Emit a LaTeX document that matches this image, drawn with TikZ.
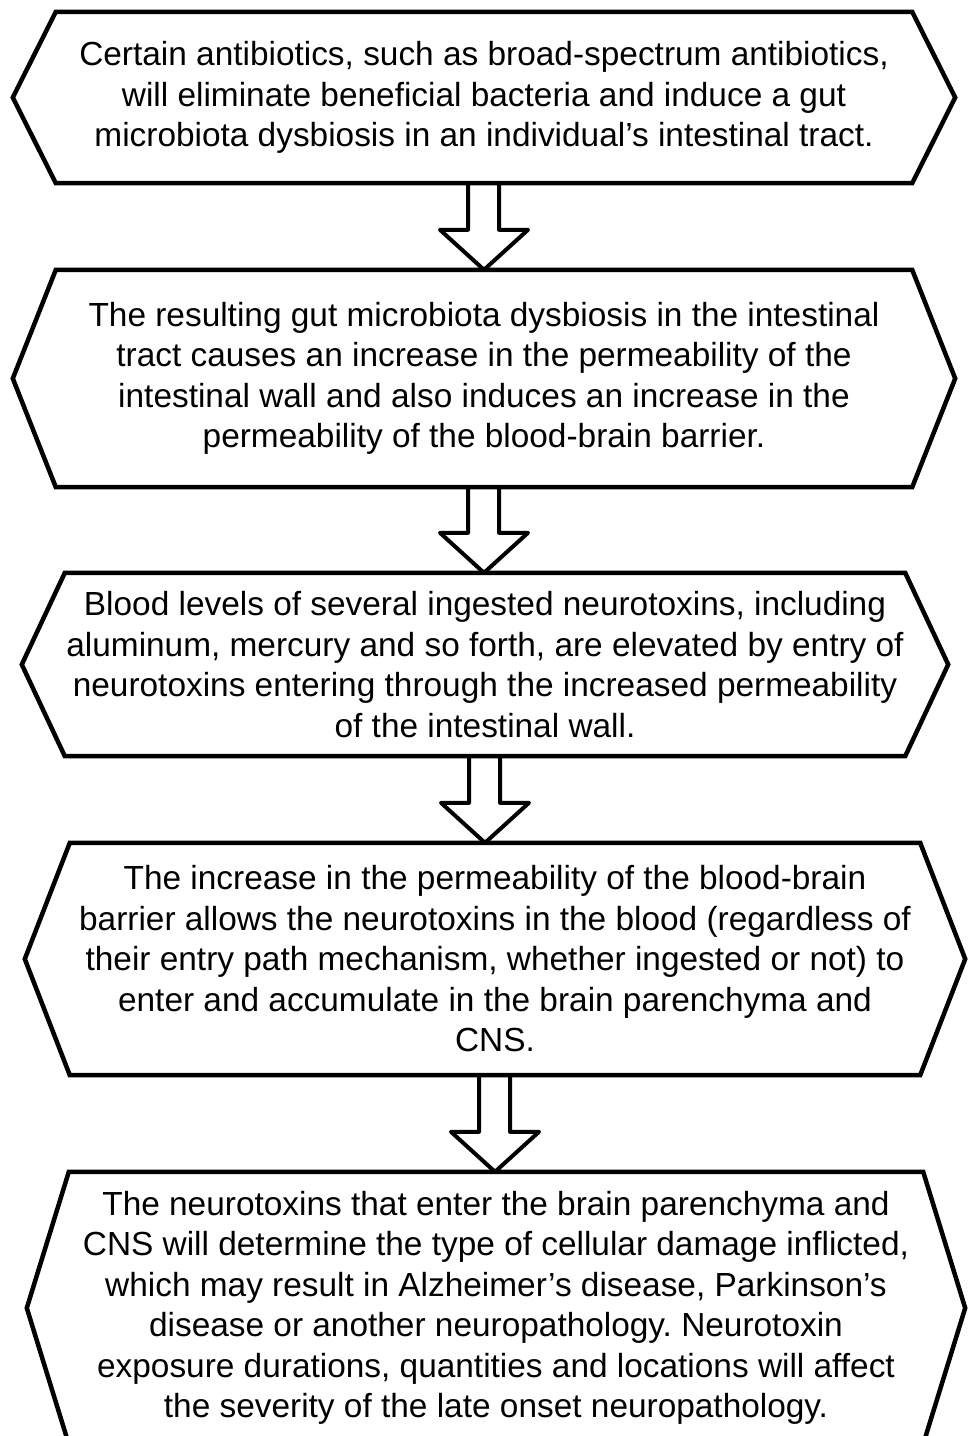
\documentclass[tikz,border=0pt]{standalone}
\usepackage{fontspec}
\setmainfont{Liberation Sans}
\usepackage{tikz}
\usetikzlibrary{calc}
\frenchspacing

\begin{document}
\begin{tikzpicture}[
        x=1pt, y=1pt,
        hexbox/.style={rectangle, inner sep=0pt, align=center, font=\fontsize{33.4}{40.5}\selectfont},
        hexline/.style={draw, line width=4.5pt, line join=miter},
        flowarrow/.style={draw, line width=4pt, line join=round}
    ]

    \useasboundingbox (0,0) rectangle (968,-1436);
    \clip (0,0) rectangle (968,-1436);

    % ---- STEPS ----
    \node[hexbox, minimum width=856pt, minimum height=171pt] (h1) at (484,-97.5)
        {Certain antibiotics, such as broad-spectrum antibiotics,\\
         will eliminate beneficial bacteria and induce a gut\\
         microbiota dysbiosis in an individual’s intestinal tract.};
    \node[hexbox, minimum width=856pt, minimum height=217pt] (h2) at (484,-378.5)
        {The resulting gut microbiota dysbiosis in the intestinal\\
         tract causes an increase in the permeability of the\\
         intestinal wall and also induces an increase in the\\
         permeability of the blood-brain barrier.};
    \node[hexbox, minimum width=840pt, minimum height=183pt] (h3) at (485,-664.5)
        {Blood levels of several ingested neurotoxins, including\\
         aluminum, mercury and so forth, are elevated by entry of\\
         neurotoxins entering through the increased permeability\\
         of the intestinal wall.};
    \node[hexbox, minimum width=850pt, minimum height=232pt] (h4) at (495,-959)
        {The increase in the permeability of the blood-brain\\
         barrier allows the neurotoxins in the blood (regardless of\\
         their entry path mechanism, whether ingested or not) to\\
         enter and accumulate in the brain parenchyma and\\
         CNS.};
    \node[hexbox, minimum width=854pt, minimum height=272pt] (h5) at (496,-1308)
        {The neurotoxins that enter the brain parenchyma and\\
         CNS will determine the type of cellular damage inflicted,\\
         which may result in Alzheimer’s disease, Parkinson’s\\
         disease or another neuropathology. Neurotoxin\\
         exposure durations, quantities and locations will affect\\
         the severity of the late onset neuropathology.};

    % ---- HEXAGON OUTLINES ----
    \foreach \n/\t in {h1/43, h2/43, h3/43, h4/45, h5/42}
        \draw[hexline] (\n.north west) -- (\n.north east) -- ([xshift=\t pt]\n.east)
            -- (\n.south east) -- (\n.south west) -- ([xshift=-\t pt]\n.west) -- cycle;

    % ---- BLOCK ARROWS ----
    \foreach \a/\b in {h1/h2, h2/h3, h3/h4, h4/h5} {
        \coordinate (tip) at (\a.south |- \b.north);
        \draw[flowarrow] ([xshift=-16pt]\a.south) |- ([xshift=-44pt, yshift=40pt]tip) -- (tip)
            -- ([xshift=44pt, yshift=40pt]tip) -| ([xshift=15pt]\a.south);
    }

\end{tikzpicture}
\end{document}
